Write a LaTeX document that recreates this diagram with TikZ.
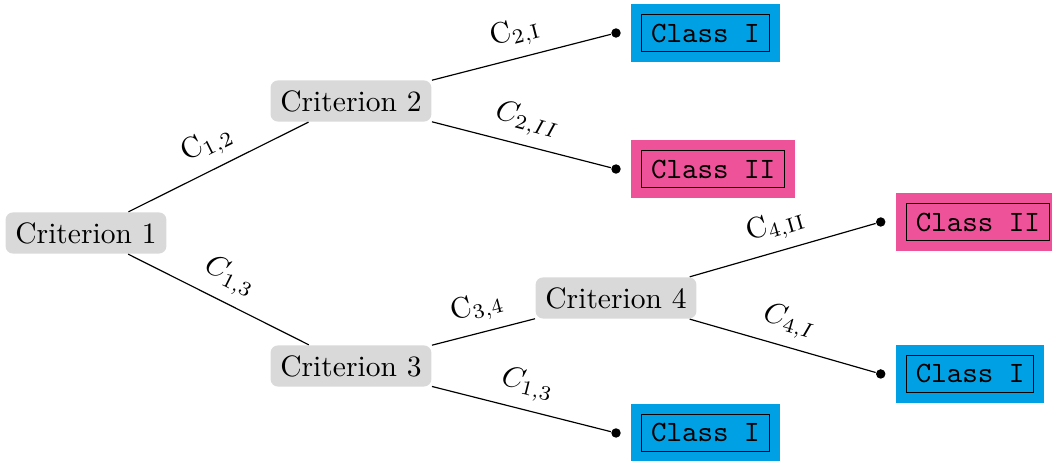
\documentclass[tikz,border=0pt]{standalone}
\usetikzlibrary{positioning}
\definecolor{classblue}{RGB}{0,161,228}
\definecolor{classpink}{RGB}{238,82,153}
\begin{document}
\begin{tikzpicture}[font=\normalfont,
    crit/.style={fill=gray!30,rounded corners=2.5pt},
    leaf/.style={circle,fill=black,inner sep=0pt,minimum size=3.2pt},
    cls/.style={fill=#1,inner sep=3.33pt},
    lbl/.style={midway,sloped,above}]
    \useasboundingbox (0,0) rectangle (12.53,-5.479);
    \node[crit] (c1) at (1.024,-2.775) {Criterion 1};
    \node[crit] (c2) at (4.18,-1.203) {Criterion 2};
    \node[crit] (c3) at (4.18,-4.359) {Criterion 3};
    \node[crit] (c4) at (7.337,-3.549) {Criterion 4};
    \node[leaf] (l1) at (7.337,-0.393) {};
    \node[leaf] (l2) at (7.337,-2.013) {};
    \node[leaf] (l3) at (10.49,-2.644) {};
    \node[leaf] (l4) at (10.49,-4.454) {};
    \node[leaf] (l5) at (7.337,-5.157) {};
    \node[cls=classblue,right=3.2pt of l1] (k1) {\fbox{\texttt{Class I}}};
    \node[cls=classpink,right=3.2pt of l2] (k2) {\fbox{\texttt{Class II}}};
    \node[cls=classpink,right=3.2pt of l3] (k3) {\fbox{\texttt{Class II}}};
    \node[cls=classblue,right=3.2pt of l4] (k4) {\fbox{\texttt{Class I}}};
    \node[cls=classblue,right=3.2pt of l5] (k5) {\fbox{\texttt{Class I}}};
    \draw (c1) -- node[lbl]{$\mathrm{C}_{1,2}$} (c2);
    \draw (c1) -- node[lbl]{$C_{1,3}$} (c3);
    \draw (c2) -- node[lbl]{$\mathrm{C}_{2,\mathrm{I}}$} (l1);
    \draw (c2) -- node[lbl]{$C_{2,II}$} (l2);
    \draw (c3) -- node[lbl]{$\mathrm{C}_{3,4}$} (c4);
    \draw (c3) -- node[lbl]{$C_{1,3}$} (l5);
    \draw (c4) -- node[lbl]{$\mathrm{C}_{4,\mathrm{II}}$} (l3);
    \draw (c4) -- node[lbl]{$C_{4,I}$} (l4);
\end{tikzpicture}
\end{document}
